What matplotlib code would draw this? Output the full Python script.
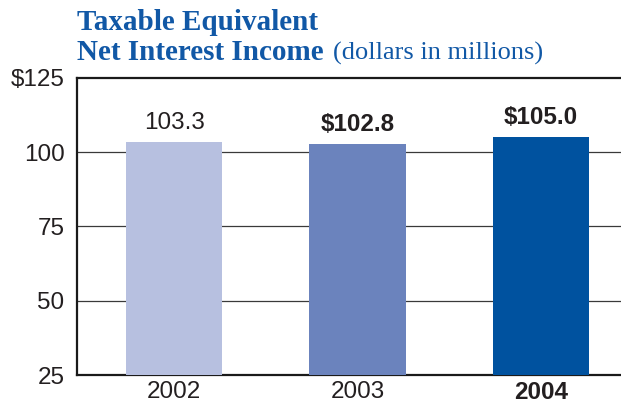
import matplotlib
matplotlib.use("Agg")
import matplotlib.pyplot as plt

years = ["2002", "2003", "2004"]
values = [103.3, 102.8, 105.0]
value_labels = ["103.3", "$102.8", "$105.0"]
label_weights = ["normal", "bold", "bold"]
year_weights = ["normal", "normal", "bold"]
bar_colors = ["#b7c0e0", "#6b83bd", "#00529f"]
y_ticks = [25, 50, 75, 100, 125]
y_tick_labels = ["25", "50", "75", "100", "$125"]

title_blue = "#1158a6"
text_dark = "#231f20"
sans = ["Liberation Sans", "DejaVu Sans"]
serif = ["Liberation Serif", "DejaVu Serif"]

W, H = 621, 404
fig = plt.figure(figsize=(W / 100, H / 100), dpi=100)
ax = fig.add_axes([77 / W, 1 - 375 / H, 1 - 77 / W, (375 - 78) / H])

x = list(range(len(years)))
ax.bar(x, values, width=0.525, color=bar_colors, zorder=3, bottom=0)
ax.set_ylim(25, 125)
ax.set_xlim(-0.53, 2.437)

# horizontal rules at the interior ticks
for v in [50, 75, 100]:
    ax.axhline(v, color="#3a3a3a", linewidth=0.9, zorder=1)

for s in ["left", "top", "bottom"]:
    ax.spines[s].set_linewidth(1.6)
    ax.spines[s].set_color("#1a1a1a")
ax.spines["right"].set_visible(False)

ax.set_yticks(y_ticks)
ax.set_yticklabels(y_tick_labels, fontsize=17.5, color=text_dark, family=sans)
ax.tick_params(axis="y", length=0, pad=9)

ax.set_xticks(x)
ax.set_xticklabels(years, fontsize=17.5, color=text_dark, family=sans)
for lbl, w in zip(ax.get_xticklabels(), year_weights):
    lbl.set_fontweight(w)
ax.tick_params(axis="x", length=0, pad=4.5)

for xi, v, lab, w in zip(x, values, value_labels, label_weights):
    ax.annotate(lab, (xi, v), xytext=(0, 6), textcoords="offset points",
                ha="center", va="bottom", fontsize=17.5, fontweight=w,
                color=text_dark, family=sans, zorder=4)

# two-line title; the second line mixes bold and regular type
fig.text(77 / W, 1 - 30 / H, "Taxable Equivalent", fontsize=21,
         fontweight="bold", color=title_blue, family=serif, va="baseline")
t2 = fig.text(77 / W, 1 - 60 / H, "Net Interest Income", fontsize=21,
              fontweight="bold", color=title_blue, family=serif, va="baseline")
fig.canvas.draw()
bb = t2.get_window_extent(renderer=fig.canvas.get_renderer())
fig.text((bb.x1 + 9) / W, 1 - 60 / H, "(dollars in millions)", fontsize=19,
         color=title_blue, family=serif, va="baseline")

fig.savefig("out.png", dpi=100)
